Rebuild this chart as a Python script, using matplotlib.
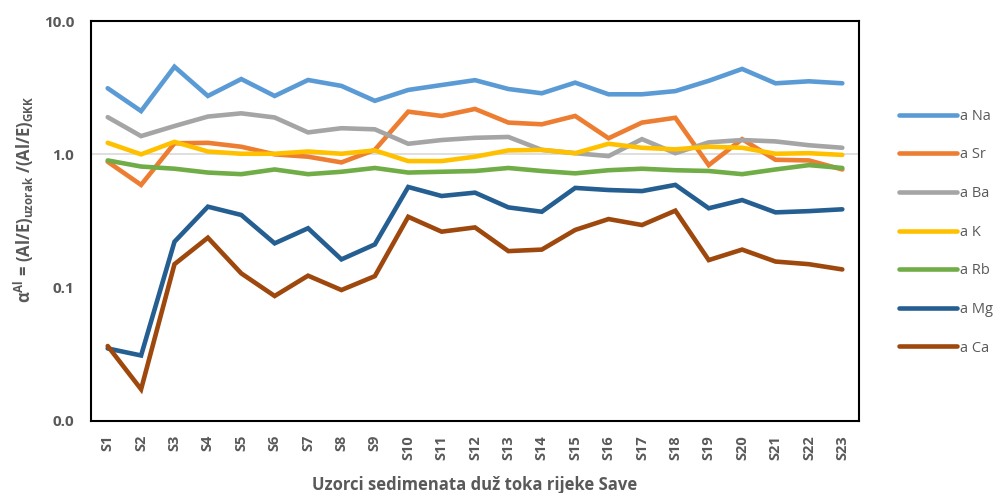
import matplotlib
matplotlib.use("Agg")
import matplotlib.pyplot as plt
import numpy as np

plt.rcParams['font.family'] = ['Open Sans', 'DejaVu Sans']

samples = ["S%d" % i for i in range(1, 24)]
series_names = ["a Na", "a Sr", "a Ba", "a K", "a Rb", "a Mg", "a Ca"]

na = [3.13, 2.11, 4.54, 2.74, 3.67, 2.74, 3.61, 3.26, 2.52, 3.04, 3.31, 3.60,
      3.09, 2.87, 3.45, 2.82, 2.82, 2.98, 3.56, 4.37, 3.41, 3.53, 3.41]
sr = [0.88, 0.59, 1.21, 1.22, 1.14, 1.00, 0.96, 0.87, 1.08, 2.09, 1.94, 2.19,
      1.73, 1.68, 1.94, 1.32, 1.73, 1.88, 0.83, 1.30, 0.91, 0.90, 0.77]
ba = [1.90, 1.37, 1.63, 1.92, 2.03, 1.89, 1.46, 1.57, 1.54, 1.20, 1.28, 1.33,
      1.35, 1.08, 1.02, 0.97, 1.30, 1.02, 1.23, 1.28, 1.25, 1.17, 1.12]
k = [1.22, 1.00, 1.24, 1.05, 1.01, 1.01, 1.05, 1.01, 1.07, 0.89, 0.89, 0.96,
     1.07, 1.08, 1.02, 1.20, 1.12, 1.09, 1.14, 1.12, 1.01, 1.02, 0.99]
rb = [0.90, 0.81, 0.78, 0.73, 0.71, 0.77, 0.71, 0.74, 0.79, 0.73, 0.74, 0.75,
      0.79, 0.75, 0.72, 0.76, 0.78, 0.76, 0.75, 0.71, 0.77, 0.83, 0.79]
mg = [0.035, 0.031, 0.221, 0.405, 0.351, 0.215, 0.279, 0.163, 0.211, 0.569, 0.487, 0.516,
      0.400, 0.371, 0.560, 0.540, 0.530, 0.590, 0.394, 0.454, 0.367, 0.375, 0.387]
ca = [0.0365, 0.0173, 0.150, 0.237, 0.128, 0.0866, 0.123, 0.096, 0.122, 0.340, 0.263, 0.283,
      0.188, 0.193, 0.271, 0.327, 0.295, 0.378, 0.161, 0.193, 0.157, 0.150, 0.137]

colors = ["#5B9BD5", "#ED7D31", "#A5A5A5", "#FFC000", "#70AD47", "#255E91", "#9E480E"]
yticks = [0.01, 0.1, 1, 10]
ytick_labels = ["0.0", "0.1", "1.0", "10.0"]

fig = plt.figure(figsize=(9.97, 4.93), dpi=100)
ax = fig.add_axes([91/997, (493-421)/493, (859-91)/997, (421-21)/493])

x = np.arange(len(samples))
ax.axhline(1.0, color="#D9D9D9", lw=1.2, zorder=0)
handles = []
for name, vals, c in zip(series_names, [na, sr, ba, k, rb, mg, ca], colors):
    h, = ax.plot(x, vals, color=c, lw=3.3, solid_capstyle='round', solid_joinstyle='miter', label=name)
    handles.append(h)

ax.set_yscale('log')
ax.set_ylim(0.01, 10)
ax.set_xlim(-0.5, len(samples) - 0.5)
ax.set_yticks(yticks)
ax.set_yticklabels(ytick_labels)
ax.minorticks_off()
ax.set_xticks(x)
ax.set_xticklabels(samples, rotation=90)
ax.tick_params(axis='both', length=0, colors='#595959')
ax.tick_params(axis='y', pad=12, labelsize=11)
ax.tick_params(axis='x', pad=10, labelsize=10.5)
for lab in ax.get_xticklabels() + ax.get_yticklabels():
    lab.set_fontweight('bold')
for sp in ax.spines.values():
    sp.set_color('black')
    sp.set_linewidth(1.5)

ax.set_xlabel("Uzorci sedimenata duž toka rijeke Save", fontsize=12, fontweight='bold',
              color='#595959', labelpad=12)
ax.set_ylabel(r"α$^{\mathregular{Al}}$ = (Al/E)$_{\mathregular{uzorak}}$ /(Al/E)$_{\mathregular{GKK}}$",
              fontsize=12, fontweight='bold', color='#595959')
ax.yaxis.set_label_coords(-0.072, 0.555)

leg = fig.legend(handles=handles, loc='upper left', bbox_to_anchor=(893/997, 1 - 103/493),
                 frameon=False, fontsize=10.5, handlelength=4.0, handletextpad=0.2,
                 labelspacing=1.62, borderaxespad=0)
for t in leg.get_texts():
    t.set_color('#595959')

fig.savefig("out.png", dpi=100)
